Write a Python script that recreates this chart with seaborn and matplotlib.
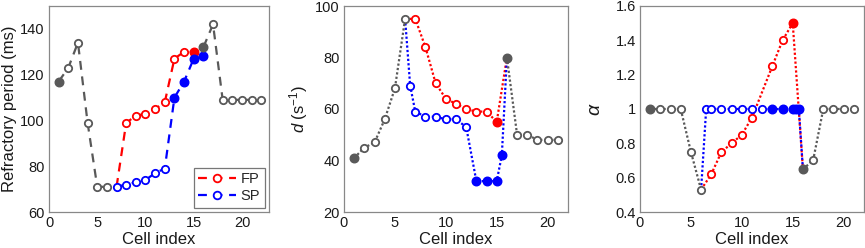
import numpy as np
import pandas as pd
import matplotlib
matplotlib.use("Agg")
import matplotlib.pyplot as plt
from matplotlib.lines import Line2D
import seaborn as sns

# ---- panel A: refractory period (ms) ----
rp_gray1_x = [1, 2, 3, 4, 5, 6]
rp_gray1_y = [117, 123, 134, 99, 71, 71]
rp_fp_x = [7, 8, 9, 10, 11, 12, 13, 14, 15]
rp_fp_y = [71, 99, 102, 103, 105, 108, 127, 130, 130]
rp_sp_x = [7, 8, 9, 10, 11, 12, 13, 14, 15, 16]
rp_sp_y = [71, 72, 73, 74, 77, 79, 110, 117, 127, 128]
rp_gray2_x = [16, 17, 18, 19, 20, 21, 22]
rp_gray2_y = [132, 142, 109, 109, 109, 109, 109]
rp_filled = {"gray1": [1], "fp": [15], "sp": [13, 14, 15, 16], "gray2": [16]}
rp_hidden = {"fp": [7]}

# ---- panel B: d (s^-1) ----
d_gray1_x = [1, 2, 3, 4, 5, 6]
d_gray1_y = [41, 45, 47, 56, 68, 95]
d_fp_x = [6, 7, 8, 9, 10, 11, 12, 13, 14, 15, 16]
d_fp_y = [95, 95, 84, 70, 64, 62, 60, 59, 59, 55, 80]
d_sp_x = [6, 6.5, 7, 8, 9, 10, 11, 12, 13, 14, 15, 15.5, 16]
d_sp_y = [95, 69, 59, 57, 57, 56, 56, 53, 32, 32, 32, 42, 80]
d_gray2_x = [16, 17, 18, 19, 20, 21]
d_gray2_y = [80, 50, 50, 48, 48, 48]
d_filled = {"gray1": [1], "fp": [15], "sp": [13, 14, 15, 15.5], "gray2": [16]}
d_hidden = {"fp": [6, 16], "sp": [6, 16]}

# ---- panel C: alpha ----
a_gray1_x = [1, 2, 3, 4, 5, 6]
a_gray1_y = [1, 1, 1, 1, 0.75, 0.53]
a_fp_x = [6, 7, 8, 9, 10, 11, 13, 14, 15, 16]
a_fp_y = [0.53, 0.62, 0.75, 0.80, 0.85, 0.95, 1.25, 1.40, 1.50, 0.65]
a_sp_x = [6, 6.5, 7, 8, 9, 10, 11, 12, 13, 14, 15, 15.3, 15.6, 16]
a_sp_y = [0.53, 1, 1, 1, 1, 1, 1, 1, 1, 1, 1, 1, 1, 0.65]
a_gray2_x = [16, 17, 18, 19, 20, 21]
a_gray2_y = [0.65, 0.70, 1, 1, 1, 1]
a_filled = {"gray1": [1], "fp": [15], "sp": [13, 14, 15, 15.3, 15.6], "gray2": [16]}
a_hidden = {"fp": [6, 16], "sp": [6, 16]}

colors = {"fp": "#ff0000", "sp": "#0000ff", "gray1": "#595959", "gray2": "#595959"}

sns.set_style("white")
plt.rcParams["font.family"] = ["Liberation Sans", "DejaVu Sans"]
plt.rcParams["mathtext.fontset"] = "custom"
plt.rcParams["mathtext.it"] = "Liberation Sans:italic"
plt.rcParams["mathtext.rm"] = "Liberation Sans"

LABEL_FS = 12
TICK_FS = 10.5


def draw_panel(ax, series, filled, hidden, dash):
    # lines first, then markers: colored ones, gray on top
    for key in ["fp", "sp", "gray1", "gray2"]:
        x, y = series[key]
        sns.lineplot(x=x, y=y, ax=ax, color=colors[key], linestyle=dash,
                     linewidth=1.6, sort=False, estimator=None, legend=False)
    for key in ["fp", "sp", "gray1", "gray2"]:
        x, y = series[key]
        df = pd.DataFrame({"x": x, "y": y})
        df = df[~df["x"].isin(hidden.get(key, []))]
        solid = df["x"].isin(filled.get(key, []))
        sns.scatterplot(data=df[~solid], x="x", y="y", ax=ax, s=28,
                        facecolor="white", edgecolor=colors[key], linewidth=1.3,
                        legend=False, zorder=4)
        sns.scatterplot(data=df[solid], x="x", y="y", ax=ax, s=38,
                        color=colors[key], edgecolor=colors[key], linewidth=1,
                        legend=False, zorder=5)


def style_axes(ax, xlim, ylim, yticks, yticklabels):
    ax.set_xlim(*xlim)
    ax.set_ylim(*ylim)
    ax.set_xticks([0, 5, 10, 15, 20])
    ax.set_yticks(yticks)
    ax.set_yticklabels(yticklabels)
    ax.tick_params(direction="in", length=3, width=0.8, colors="#555555",
                   labelcolor="#1a1a1a", labelsize=TICK_FS, pad=3)
    for s in ax.spines.values():
        s.set_color("#888888")
        s.set_linewidth(0.9)
    ax.set_xlabel("Cell index", fontsize=LABEL_FS, color="#1a1a1a", labelpad=1)


fig = plt.figure(figsize=(8.65, 2.48), dpi=100)
ax1 = fig.add_axes([49 / 865, 36 / 248, 220 / 865, 206 / 248])
ax2 = fig.add_axes([344 / 865, 36 / 248, 224 / 865, 206 / 248])
ax3 = fig.add_axes([640 / 865, 36 / 248, 224 / 865, 206 / 248])

draw_panel(ax1, {"gray1": (rp_gray1_x, rp_gray1_y), "fp": (rp_fp_x, rp_fp_y),
                 "sp": (rp_sp_x, rp_sp_y), "gray2": (rp_gray2_x, rp_gray2_y)},
           rp_filled, rp_hidden, (0, (4, 3)))
style_axes(ax1, (0, 22.8), (60, 150), [60, 80, 100, 120, 140],
           ["60", "80", "100", "120", "140"])
ax1.set_ylabel("Refractory period (ms)", fontsize=LABEL_FS, color="#1a1a1a", labelpad=2)
handles = [Line2D([], [], color=colors["fp"], linestyle=(0, (4, 3)), linewidth=1.6,
                  marker="o", markersize=5.5, markerfacecolor="white",
                  markeredgewidth=1.3, label="FP"),
           Line2D([], [], color=colors["sp"], linestyle=(0, (4, 3)), linewidth=1.6,
                  marker="o", markersize=5.5, markerfacecolor="white",
                  markeredgewidth=1.3, label="SP")]
leg = ax1.legend(handles=handles, loc="lower right", fontsize=TICK_FS, frameon=True,
                 fancybox=False, handlelength=2.6, handletextpad=0.3,
                 borderpad=0.3, labelspacing=0.2, borderaxespad=0.3)
leg.get_frame().set_edgecolor("#555555")
leg.get_frame().set_linewidth(0.9)

draw_panel(ax2, {"gray1": (d_gray1_x, d_gray1_y), "fp": (d_fp_x, d_fp_y),
                 "sp": (d_sp_x, d_sp_y), "gray2": (d_gray2_x, d_gray2_y)},
           d_filled, d_hidden, (0, (1, 1)))
style_axes(ax2, (0, 22), (20, 100), [20, 40, 60, 80, 100],
           ["20", "40", "60", "80", "100"])
ax2.set_ylabel("$d$ (s$^{-1}$)", fontsize=LABEL_FS, color="#1a1a1a", labelpad=4)

draw_panel(ax3, {"gray1": (a_gray1_x, a_gray1_y), "fp": (a_fp_x, a_fp_y),
                 "sp": (a_sp_x, a_sp_y), "gray2": (a_gray2_x, a_gray2_y)},
           a_filled, a_hidden, (0, (1, 1)))
style_axes(ax3, (0, 22), (0.4, 1.6), [0.4, 0.6, 0.8, 1.0, 1.2, 1.4, 1.6],
           ["0.4", "0.6", "0.8", "1", "1.2", "1.4", "1.6"])
ax3.set_ylabel(r"$\alpha$", fontsize=14, color="#1a1a1a", labelpad=8)

fig.savefig("out.png", dpi=100)
